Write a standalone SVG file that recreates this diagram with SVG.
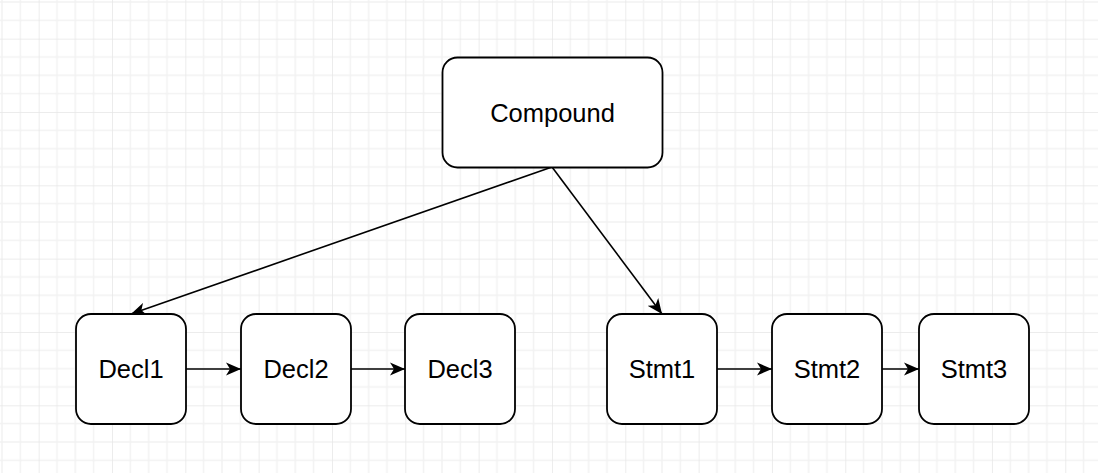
<svg xmlns="http://www.w3.org/2000/svg" width="1098" height="473" viewBox="0 0 1098 473">
<style>
.node rect{fill:#ffffff;stroke:#000000;stroke-width:1.8}
.node text{font-family:"Liberation Sans",Arial,sans-serif;font-size:25.5px;fill:#000000;text-anchor:middle;dominant-baseline:central}
.edge{fill:none;stroke:#000000;stroke-width:1.6}
</style>
<defs>
<pattern id="grid" x="-34.67" y="-34.67" width="73.33" height="73.33" patternUnits="userSpaceOnUse">
<path d="M18.33 0V73.33M36.67 0V73.33M55 0V73.33M0 18.33H73.33M0 36.67H73.33M0 55H73.33" stroke="#f2f2f2" stroke-width="1.5" fill="none"/>
<path d="M0 0V73.33M0 0H73.33" stroke="#e6e6e6" stroke-width="1.5" fill="none"/>
</pattern>
<marker id="arr" markerUnits="userSpaceOnUse" markerWidth="16" markerHeight="14" refX="15" refY="7" orient="auto" viewBox="0 0 16 14">
<path d="M0 0.5L15 7L0 13.5L4 7Z" fill="#000000"/>
</marker>
</defs>
<rect width="1098" height="473" fill="#ffffff"/>
<rect width="1098" height="473" fill="url(#grid)"/>
<g id="connectors">
<line class="edge" x1="552" y1="167" x2="131" y2="314" marker-end="url(#arr)"/>
<line class="edge" x1="552" y1="167" x2="662" y2="314" marker-end="url(#arr)"/>
<line class="edge" x1="186" y1="369" x2="241" y2="369" marker-end="url(#arr)"/>
<line class="edge" x1="351" y1="369" x2="405" y2="369" marker-end="url(#arr)"/>
<line class="edge" x1="717" y1="369" x2="772" y2="369" marker-end="url(#arr)"/>
<line class="edge" x1="882" y1="369" x2="919" y2="369" marker-end="url(#arr)"/>
</g>
<g id="compound" class="node"><rect x="442.5" y="57.5" width="220" height="110" rx="15"/><text x="552.5" y="113">Compound</text></g>
<g id="decl1" class="node"><rect x="76" y="314" width="110" height="110" rx="15"/><text x="131" y="369">Decl1</text></g>
<g id="decl2" class="node"><rect x="241" y="314" width="110" height="110" rx="15"/><text x="296" y="369">Decl2</text></g>
<g id="decl3" class="node"><rect x="405" y="314" width="110" height="110" rx="15"/><text x="460" y="369">Decl3</text></g>
<g id="stmt1" class="node"><rect x="607" y="314" width="110" height="110" rx="15"/><text x="662" y="369">Stmt1</text></g>
<g id="stmt2" class="node"><rect x="772" y="314" width="110" height="110" rx="15"/><text x="827" y="369">Stmt2</text></g>
<g id="stmt3" class="node"><rect x="919" y="314" width="110" height="110" rx="15"/><text x="974" y="369">Stmt3</text></g>
</svg>
